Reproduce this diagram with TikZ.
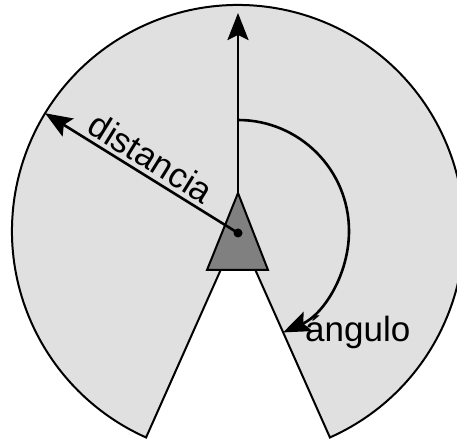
\documentclass[tikz,border=0pt]{standalone}
\usepackage{fontspec}
\setmainfont{Liberation Sans}
\usetikzlibrary{arrows.meta,positioning,calc}
\definecolor{areagray}{HTML}{E0E0E0}
\definecolor{robotgray}{HTML}{808080}
\tikzset{
  area/.style={draw, line width=2pt, fill=areagray},
  robot/.style={draw, line width=2pt, fill=robotgray},
  ray/.style={-{Stealth[length=27pt, width=21pt, inset=5pt]}, line width=2.6pt},
  lbl/.style={font=\fontsize{35}{42}\selectfont, inner sep=0pt}
}

\begin{document}
\begin{tikzpicture}[x=1pt,y=1pt]
  \useasboundingbox (0,0) rectangle (457,441);
  \coordinate (c) at (238,210);
  % field of view
  \draw[area] (c) -- ++(-66:226) arc[start angle=-66, end angle=246, radius=226] -- cycle;
  % heading
  \coordinate (apex) at (238,248);
  \coordinate (top) at (238,428);
  \draw[ray] (apex) -- (top);
  % angle
  \coordinate (arcstart) at ($(c)+(90:111)$);
  \draw[ray] (arcstart) arc[start angle=90, end angle=-66, radius=111];
  \node[lbl, anchor=base west] (ang) at (305,99) {ángulo};
  % robot
  \draw[robot] (apex) -- (207,171) -- (268,171) -- cycle;
  \node[circle, fill, inner sep=0pt, minimum size=9pt] (pos) at (238,208) {};
  \coordinate (edge) at ($(c)+(148.6:226)$);
  \draw[ray] (pos.center) -- node[lbl, sloped, above=4pt, pos=0.5] (dist) {distancia} (edge);
\end{tikzpicture}
\end{document}
